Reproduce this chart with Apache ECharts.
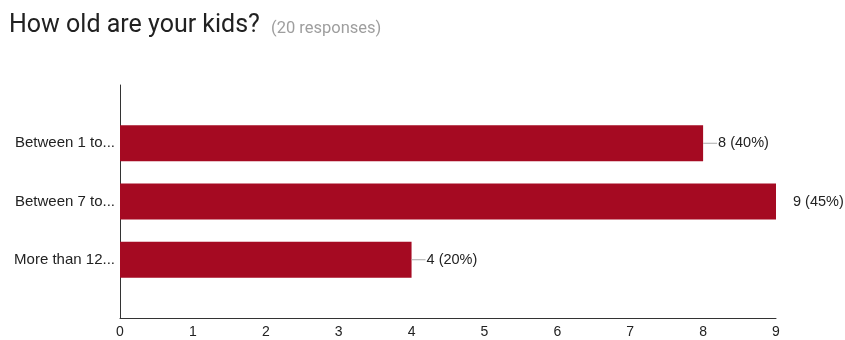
<!DOCTYPE html>
<html>
<head>
<meta charset="utf-8">
<script src="https://cdn.jsdelivr.net/npm/echarts@6/dist/echarts.min.js"></script>
<style>
  html, body { margin: 0; padding: 0; background: #fff; }
  #chart { width: 845px; height: 340px; }
</style>
</head>
<body>
<div id="chart"></div>
<script>
// Answer categories, top to bottom, with their response counts
const categories = ['Between 1 to...', 'Between 7 to...', 'More than 12...'];
const counts = [8, 9, 4];
const totalResponses = 20;
const xTicks = [0, 1, 2, 3, 4, 5, 6, 7, 8, 9];

const xMax = xTicks[xTicks.length - 1];

// Category axis runs bottom-up; pad with an empty slot at each end
const yCats = [''].concat(categories.slice().reverse(), ['']);
const barData = ['-'].concat(counts.slice().reverse(), ['-']);

const chart = echarts.init(document.getElementById('chart'), null, { renderer: 'canvas' });

chart.setOption({
  animation: false,
  backgroundColor: '#fff',
  title: [
    {
      text: 'How old are your kids?',
      left: 9, top: 13, padding: 0,
      textStyle: { fontFamily: 'Roboto', fontSize: 25, fontWeight: 'normal', color: '#212121' }
    },
    {
      text: '(' + totalResponses + ' responses)',
      left: 271, top: 20, padding: 0,
      textStyle: { fontFamily: 'Roboto', fontSize: 16.5, fontWeight: 'normal', color: '#9e9e9e' }
    }
  ],
  grid: { left: 120, right: 69, top: 85, bottom: 22, containLabel: false },
  xAxis: {
    type: 'value',
    min: 0, max: xMax, interval: 1,
    axisLine: { show: true, lineStyle: { color: '#333', width: 1 } },
    axisTick: { show: false },
    splitLine: { show: false },
    axisLabel: { margin: 7, fontFamily: 'Liberation Sans Narrow, Liberation Sans', fontSize: 14, color: '#222' }
  },
  yAxis: {
    type: 'category',
    data: yCats,
    boundaryGap: false,
    axisLine: { show: true, lineStyle: { color: '#333', width: 1 } },
    axisTick: { show: false },
    splitLine: { show: false },
    axisLabel: { margin: 5, fontFamily: 'Liberation Sans', fontSize: 15, color: '#222' }
  },
  series: [{
    type: 'bar',
    data: barData,
    barWidth: 36,
    itemStyle: { color: '#a50a22' },
    label: {
      show: true,
      position: 'right',
      distance: 0,
      fontFamily: 'Liberation Sans',
      fontSize: 14.5,
      color: '#222',
      formatter: function (p) {
        const pct = Math.round(p.value / totalResponses * 100);
        const text = p.value + ' (' + pct + '%)';
        // leader line from the bar end, except where the bar reaches the plot edge
        return p.value >= xMax ? '{gap|}{v|' + text + '}' : '{line|}{v|' + text + '}';
      },
      rich: {
        line: { width: 14, height: 1, backgroundColor: '#aaa', verticalAlign: 'middle' },
        gap: { width: 16, height: 1, verticalAlign: 'middle' },
        v: { fontFamily: 'Liberation Sans', fontSize: 14.5, color: '#222', padding: [0, 0, 0, 1], verticalAlign: 'middle' }
      }
    }
  }]
});
</script>
</body>
</html>
